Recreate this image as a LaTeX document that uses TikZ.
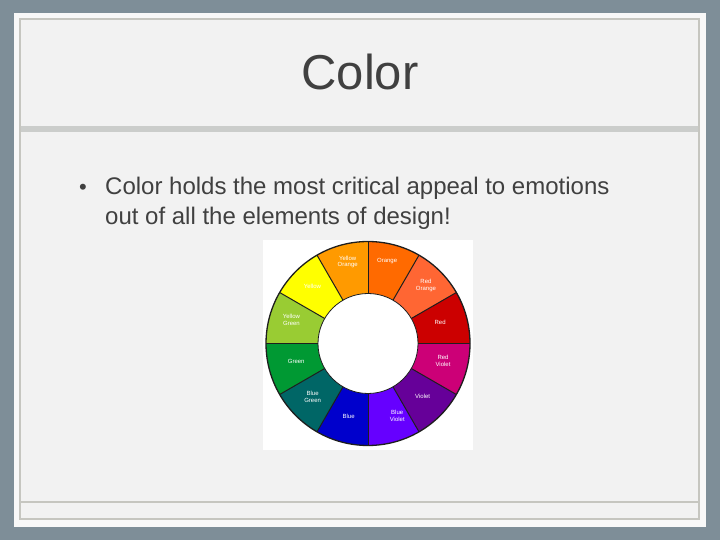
\documentclass[tikz,border=0pt]{standalone}
\usepackage{fontspec}
\setmainfont{Liberation Sans}
\usepackage{xcolor}
\usepackage{tikz}
\usetikzlibrary{positioning}
\definecolor{slidebg}{HTML}{7E8E98}
\definecolor{panelwhite}{HTML}{F8F8F8}
\definecolor{panelgray}{HTML}{F2F2F2}
\definecolor{rulegray}{HTML}{C6C6C0}
\definecolor{bandgray}{HTML}{CBCDCB}
\definecolor{textgray}{HTML}{404040}
\definecolor{wheeledge}{HTML}{1E1E1E}
\definecolor{cwYO}{HTML}{FF9A00}
\definecolor{cwO}{HTML}{FF6A00}
\definecolor{cwRO}{HTML}{FF6633}
\definecolor{cwR}{HTML}{CC0000}
\definecolor{cwRV}{HTML}{CC0077}
\definecolor{cwV}{HTML}{660099}
\definecolor{cwBV}{HTML}{6600FF}
\definecolor{cwB}{HTML}{0000CC}
\definecolor{cwBG}{HTML}{006666}
\definecolor{cwG}{HTML}{009933}
\definecolor{cwYG}{HTML}{99CC33}
\definecolor{cwY}{HTML}{FFFF00}
\newcommand{\wheelR}{102}
\newcommand{\wheelr}{50}

\begin{document}
\begin{tikzpicture}[x=1pt, y=1pt,
    wheellabel/.style={font=\fontsize{6}{6.8}\selectfont, white, align=center, inner sep=0pt}]
    \useasboundingbox (0,0) rectangle (720,540);
    % Slide background and panel
    \fill[slidebg] (0,0) rectangle (720,540);
    \fill[panelwhite] (14,13) rectangle (706,527);
    \draw[rulegray, line width=1.5pt, fill=panelgray] (20,21) rectangle (699,521);
    \fill[bandgray] (21,408) rectangle (698,414);
    \draw[rulegray, line width=1.5pt] (21,38) -- (698,38);

    % Title
    \node[font=\fontsize{49}{55}\selectfont, textgray, anchor=base] (title) at (360,450) {Color};

    % Bullet text
    \node[font=\fontsize{24}{28}\selectfont, textgray, anchor=base west, inner sep=0pt] (line1) at (105,345)
        {Color holds the most critical appeal to emotions};
    \node[font=\fontsize{24}{28}\selectfont, textgray, anchor=base west, inner sep=0pt] (line2) at (105,315)
        {out of all the elements of design!};
    \node[font=\fontsize{22}{26}\selectfont, textgray, anchor=base, inner sep=0pt] (bullet) at (83,345) {\textbullet};

    % Color wheel picture
    \fill[white] (263,90) rectangle (473,300);
    \begin{scope}[shift={(368,196.5)}]
        \foreach \a/\c in {90/cwYO, 60/cwO, 30/cwRO, 0/cwR, 330/cwRV, 300/cwV,
                           270/cwBV, 240/cwB, 210/cwBG, 180/cwG, 150/cwYG, 120/cwY}
            \fill[\c] (0,0) -- (\a:\wheelR) arc[start angle=\a, end angle=\a+30, radius=\wheelR] -- cycle;
        \fill[white] (0,0) circle[radius=\wheelr];
        \foreach \a in {0,30,...,330}
            \draw[wheeledge, line width=1pt] (\a:\wheelr) -- (\a:\wheelR);
        \draw[wheeledge, line width=1.3pt] (0,0) circle[radius=\wheelR];
        \draw[wheeledge, line width=0.8pt] (0,0) circle[radius=\wheelr];

        % Labels
        \foreach \a/\r/\t in {104/84/{Yellow\\Orange}, 77/85/Orange, 45/82/{Red\\Orange}, 16/75/Red,
                              347/77/{Red\\Violet}, 316/76/Violet, 292/78/{Blue\\Violet}, 255/75/Blue,
                              224/77/{Blue\\Green}, 194/74/Green, 163/80/{Yellow\\Green}, 134/80/Yellow}
            \node[wheellabel] (lbl\a) at (\a:\r) {\t};
    \end{scope}
\end{tikzpicture}
\end{document}
